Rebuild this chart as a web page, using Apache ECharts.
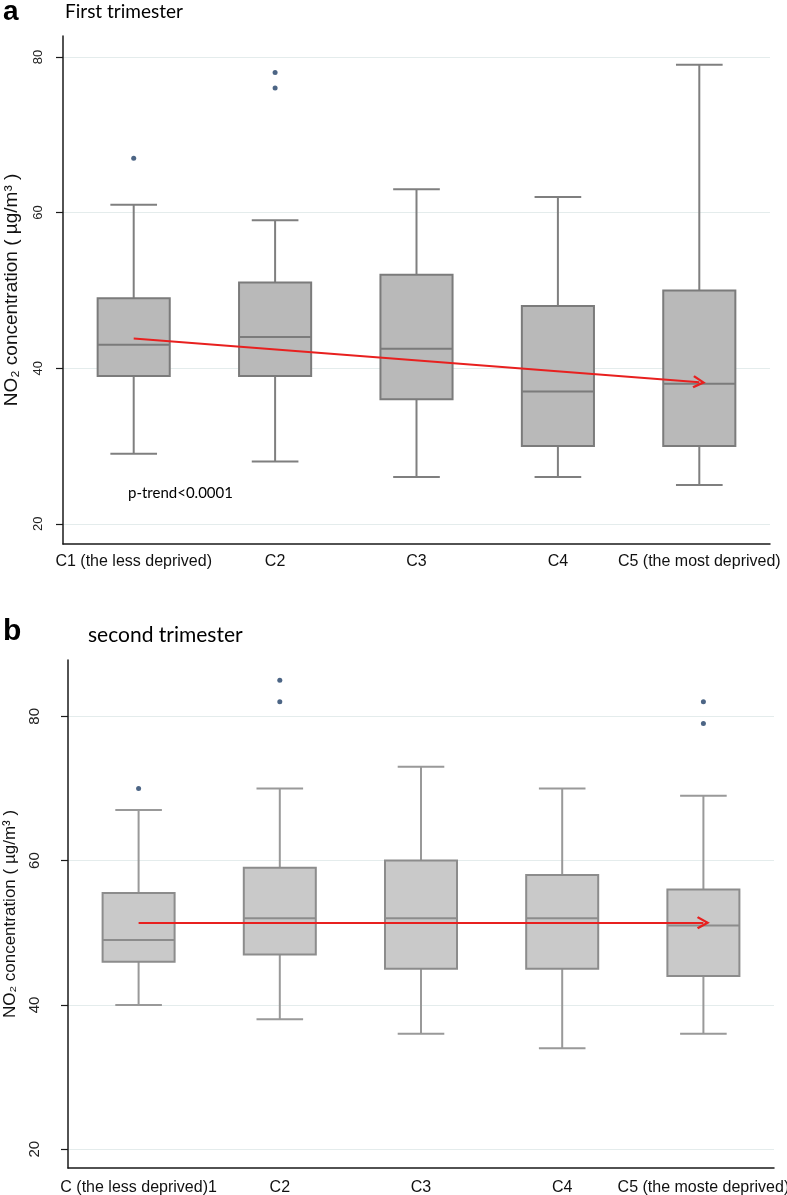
<!DOCTYPE html>
<html><head><meta charset="utf-8">
<script src="https://cdn.jsdelivr.net/npm/echarts@6/dist/echarts.min.js"></script>
<style>html,body{margin:0;padding:0;background:#fff}#c{width:787px;height:1195px}</style>
</head><body><div id="c"></div>
<script>
// ---- data ----
const categoriesA = ['C1 (the less deprived)', 'C2', 'C3', 'C4', 'C5 (the most deprived)'];
const categoriesB = ['C (the less deprived)1', 'C2', 'C3', 'C4', 'C5 (the moste deprived)'];
// each box: [lower whisker, Q1, median, Q3, upper whisker]
const boxesA = [[29, 39, 43, 49, 61], [28, 39, 44, 51, 59], [26, 36, 42.5, 52, 63], [26, 30, 37, 48, 62], [25, 30, 38, 50, 79]];
const outliersA = [[0, 67], [1, 78], [1, 76]];
const trendA = [43.8, 38.2];
const boxesB = [[40, 46, 49, 55.5, 67], [38, 47, 52, 59, 70], [36, 45, 52, 60, 73], [34, 45, 52, 58, 70], [36, 44, 51, 56, 69]];
const outliersB = [[0, 70], [1, 85], [1, 82], [4, 82], [4, 79]];
const trendB = [51.4, 51.4];
const yTicks = [20, 40, 60, 80];

const SANS = 'Liberation Sans, Arial, sans-serif';
const CAL = 'Lato, Open Sans, sans-serif';

function boxRender(st) {
  return function (params, api) {
    const i = api.value(0);
    const lo = api.coord([i, api.value(1)]);
    const q1 = api.coord([i, api.value(2)]);
    const md = api.coord([i, api.value(3)]);
    const q3 = api.coord([i, api.value(4)]);
    const hi = api.coord([i, api.value(5)]);
    const band = api.size([1, 0])[0];
    const bw = band * 0.51, cw = band * 0.33;
    const x = lo[0];
    const ws = { stroke: st.whisker, lineWidth: 2 };
    return {
      type: 'group', children: [
        { type: 'line', shape: { x1: x, y1: hi[1], x2: x, y2: q3[1] }, style: ws },
        { type: 'line', shape: { x1: x, y1: q1[1], x2: x, y2: lo[1] }, style: ws },
        { type: 'line', shape: { x1: x - cw / 2, y1: hi[1], x2: x + cw / 2, y2: hi[1] }, style: ws },
        { type: 'line', shape: { x1: x - cw / 2, y1: lo[1], x2: x + cw / 2, y2: lo[1] }, style: ws },
        { type: 'rect', shape: { x: x - bw / 2, y: q3[1], width: bw, height: q1[1] - q3[1] }, style: { fill: st.fill, stroke: st.border, lineWidth: 2 } },
        { type: 'line', shape: { x1: x - bw / 2, y1: md[1], x2: x + bw / 2, y2: md[1] }, style: { stroke: st.border, lineWidth: 2 } }
      ]
    };
  };
}

const arrowPath = 'path://M5,0 L10,9 L8.6,10 L5,3.5 L1.4,10 L0,9 Z';

function yAxis(gi, min, max, labelSize, nameSize, nameGap, labelMargin) {
  return {
    type: 'value', gridIndex: gi, min: min, max: max,
    name: 'NO\u2082 concentration ( \u00b5g/m\u00b3 )',
    nameLocation: 'middle', nameGap: nameGap, nameRotate: 90,
    nameTextStyle: { fontFamily: SANS, fontSize: nameSize, color: '#111' },
    axisLine: { show: true, lineStyle: { color: '#1a1a1a', width: 1.5 } },
    axisTick: { show: true, customValues: yTicks, length: 7, lineStyle: { color: '#1a1a1a', width: 1.2 } },
    axisLabel: { customValues: yTicks, rotate: 90, fontFamily: SANS, fontSize: labelSize, color: '#222', margin: labelMargin },
    splitLine: { show: true, lineStyle: { color: '#e4ecec', width: 1.2 } }
  };
}
function xAxis(gi, cats, margin) {
  return {
    type: 'category', gridIndex: gi, data: cats, boundaryGap: true,
    axisLine: { show: true, onZero: false, lineStyle: { color: '#1a1a1a', width: 1.5 } },
    axisTick: { show: false },
    axisLabel: { fontFamily: SANS, fontSize: 16, color: '#111', margin: margin, interval: 0 },
    splitLine: { show: false }
  };
}

const chart = echarts.init(document.getElementById('c'), null, { renderer: 'canvas' });
chart.setOption({
  backgroundColor: '#fff',
  animation: false,
  grid: [
    { left: 63, top: 36, width: 707, height: 508, containLabel: false, outerBoundsMode: 'none' },
    { left: 68, top: 660, width: 706, height: 508, containLabel: false, outerBoundsMode: 'none' }
  ],
  xAxis: [xAxis(0, categoriesA, 10), xAxis(1, categoriesB, 12)],
  yAxis: [yAxis(0, 17.4, 82.7, 13, 19, 42, 18), yAxis(1, 17.4, 87.8, 15, 17, 48, 26)],
  graphic: [
    { type: 'text', x: 3, y: 12, style: { text: 'a', font: 'bold 28px ' + SANS, fill: '#000', verticalAlign: 'middle' } },
    { type: 'text', x: 65, y: 12, style: { text: 'First trimester', font: '19px ' + CAL, fill: '#000', verticalAlign: 'middle' } },
    { type: 'text', x: 128, y: 493, style: { text: 'p-trend<0.0001', font: '15px ' + CAL, fill: '#000', verticalAlign: 'middle' } },
    { type: 'text', x: 3, y: 632, style: { text: 'b', font: 'bold 30px ' + SANS, fill: '#000', verticalAlign: 'middle' } },
    { type: 'text', x: 88, y: 635, style: { text: 'second trimester', font: '21px ' + CAL, fill: '#000', verticalAlign: 'middle' } }
  ],
  series: [
    {
      type: 'custom', xAxisIndex: 0, yAxisIndex: 0, silent: true,
      renderItem: boxRender({ fill: '#b9b9b9', border: '#7b7b7b', whisker: '#7f7f7f' }),
      encode: { x: 0, y: [1, 2, 3, 4, 5] },
      data: boxesA.map((b, i) => [i].concat(b))
    },
    {
      type: 'scatter', xAxisIndex: 0, yAxisIndex: 0, silent: true,
      symbolSize: 5, itemStyle: { color: '#1f3f66' },
      data: outliersA,
      markLine: {
        silent: true, symbol: ['none', arrowPath], symbolSize: 13,
        label: { show: false },
        lineStyle: { color: '#e8201f', width: 2, type: 'solid' },
        data: [[{ coord: [0, trendA[0]] }, { coord: [4, trendA[1]] }]]
      }
    },
    {
      type: 'custom', xAxisIndex: 1, yAxisIndex: 1, silent: true,
      renderItem: boxRender({ fill: '#c9c9c9', border: '#8c8c8c', whisker: '#999999' }),
      encode: { x: 0, y: [1, 2, 3, 4, 5] },
      data: boxesB.map((b, i) => [i].concat(b))
    },
    {
      type: 'scatter', xAxisIndex: 1, yAxisIndex: 1, silent: true,
      symbolSize: 5, itemStyle: { color: '#1f3f66' },
      data: outliersB,
      markLine: {
        silent: true, symbol: ['none', arrowPath], symbolSize: 13,
        label: { show: false },
        lineStyle: { color: '#e8201f', width: 2, type: 'solid' },
        data: [[{ coord: [0, trendB[0]] }, { coord: [4, trendB[1]] }]]
      }
    }
  ]
});
</script></body></html>
